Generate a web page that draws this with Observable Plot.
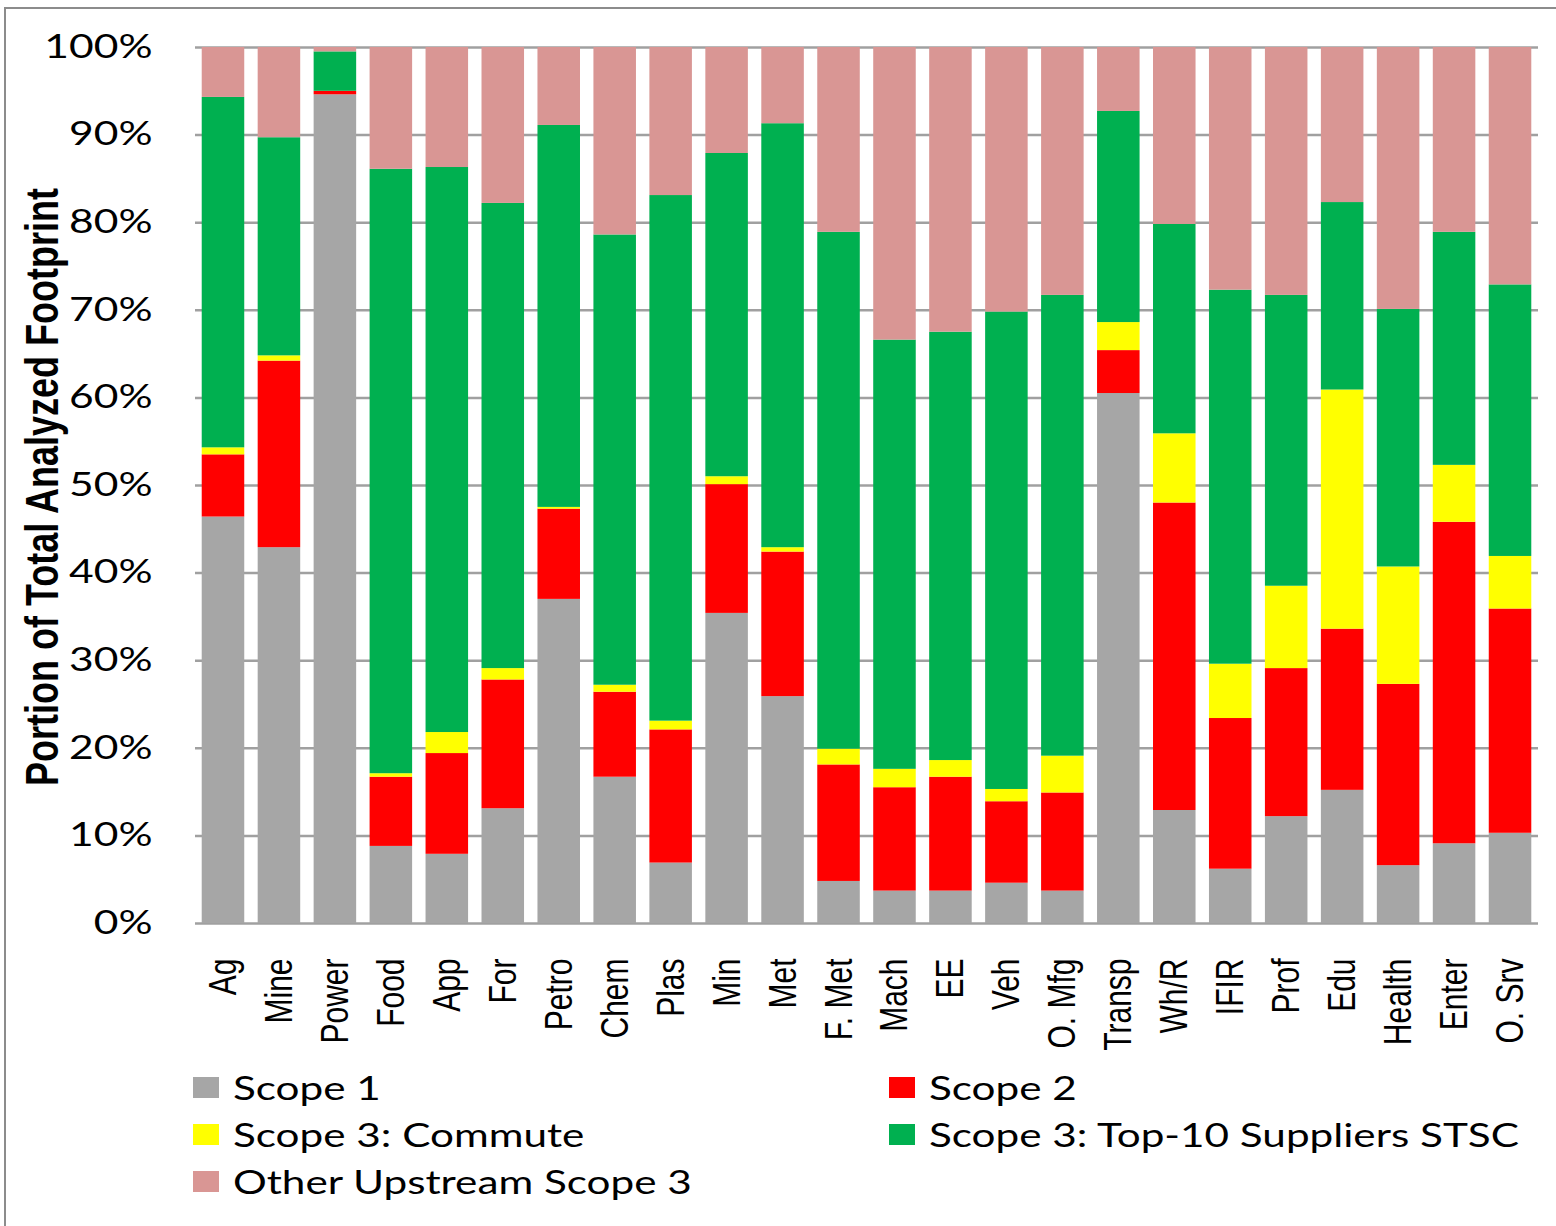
<!DOCTYPE html>
<html>
<head>
<meta charset="utf-8">
<script src="https://cdn.jsdelivr.net/npm/d3@7"></script>
<script src="https://cdn.jsdelivr.net/npm/@observablehq/plot@0.6"></script>
<style>
  html, body { margin: 0; padding: 0; background: #fff; }
  body { width: 1556px; height: 1226px; position: relative; overflow: hidden; }
  #frame { position: absolute; left: 4px; top: 7px; width: 1600px; height: 1300px; border: 2.5px solid #8c8c8c; box-sizing: border-box; }
  #chart { position: absolute; left: 0; top: 0; }
  #ytitle { position: absolute; left: 43px; top: 487px; transform-origin: 0 0;
            transform: scaleX(1.28) rotate(-90deg) translate(-50%, -50%);
            font-family: "Liberation Sans", Arial, sans-serif; font-weight: bold; font-size: 36px; white-space: nowrap; color: #000; }
  .leg { position: absolute; display: flex; align-items: center; }
  .leg .sw { width: 26px; height: 21px; margin-right: 14px; }
  .leg .tx { display: inline-block; transform-origin: 0 50%; transform: scaleX(1.32);
             font-family: Lato, "Open Sans", sans-serif; font-size: 32px; white-space: nowrap; color: #000; }
</style>
</head>
<body>
<div id="frame"></div>
<div id="chart"></div>
<div id="ytitle">Portion of Total Analyzed Footprint</div>
<div id="legend"></div>
<script>
const categories = ["Ag","Mine","Power","Food","App","For","Petro","Chem","Plas","Min","Met","F. Met","Mach","EE","Veh","O. Mfg","Transp","Wh/R","IFIR","Prof","Edu","Health","Enter","O. Srv"];
const seriesNames = ["Scope 1","Scope 2","Scope 3: Commute","Scope 3: Top-10 Suppliers STSC","Other Upstream Scope 3"];
const seriesColors = ["#a6a6a6","#ff0000","#ffff00","#00b050","#d99694"];
const scope1  = [46.4,42.9,94.6,8.8,7.9,13.1,37.0,16.7,6.9,35.4,25.9,4.8,3.7,3.7,4.6,3.7,60.5,12.9,6.2,12.2,15.2,6.6,9.1,10.3];
const scope2  = [7.1,21.3,0.4,7.9,11.5,14.7,10.3,9.7,15.2,14.7,16.5,13.3,11.8,13.0,9.3,11.2,4.9,35.1,17.2,16.9,18.4,20.7,36.7,25.6];
const commute = [0.8,0.6,0.0,0.4,2.4,1.3,0.2,0.8,1.0,0.9,0.5,1.8,2.1,1.9,1.4,4.2,3.2,7.9,6.2,9.4,27.3,13.4,6.5,6.0];
const top10   = [40.0,24.9,4.5,69.0,64.5,53.1,43.6,51.4,60.0,36.9,48.4,59.0,49.0,48.9,54.5,52.6,24.1,23.9,42.7,33.2,21.4,29.4,26.6,31.0];
const other   = [5.7,10.3,0.5,13.9,13.7,17.8,8.9,21.4,16.9,12.1,8.7,21.1,33.4,32.5,30.2,28.3,7.3,20.2,27.7,28.3,17.7,29.9,21.1,27.1];
const yTicks = [0,10,20,30,40,50,60,70,80,90,100];

const seriesValues = [scope1, scope2, commute, top10, other];
const data = [];
seriesNames.forEach((s, si) => categories.forEach((c, ci) => data.push({category: c, series: s, value: seriesValues[si][ci]})));

const W = 1556, H = 1062;
const chart = Plot.plot({
  width: W, height: H,
  marginLeft: 195, marginRight: 18, marginTop: 47, marginBottom: H - 923,
  style: {fontFamily: "Lato, sans-serif", fontSize: "32px", color: "#000", background: "transparent", overflow: "visible"},
  x: {domain: categories, paddingInner: 0.24, paddingOuter: 0.12, round: false, label: null},
  y: {domain: [0, 100], label: null},
  color: {domain: seriesNames, range: seriesColors},
  marks: [
    Plot.gridY(yTicks, {stroke: "#a0a0a0", strokeWidth: 2.5, strokeOpacity: 1}),
    Plot.barY(data, {x: "category", y: "value", fill: "series"}),
    Plot.axisY(yTicks, {tickSize: 0, tickPadding: 43, tickFormat: d => d + "%", fontSize: 32, fontFamily: "Lato, sans-serif", label: null}),
    Plot.axisX({tickRotate: -90, tickSize: 0, tickPadding: 35, fontSize: 30, fontFamily: "Liberation Sans, Arial, sans-serif", label: null})
  ]
});
document.getElementById("chart").appendChild(chart);

function stretch(sel, k) {
  sel.each(function () {
    let t = this.getAttribute("transform") || "";
    if (/rotate/.test(t)) t = t.replace(/rotate/, `scale(${k},1) rotate`);
    else t = t + ` scale(${k},1)`;
    this.setAttribute("transform", t.trim());
  });
}
stretch(d3.select(chart).selectAll('g[aria-label="y-axis tick label"] text'), 1.33);
stretch(d3.select(chart).selectAll('g[aria-label="x-axis tick label"] text'), 1.3);

// legend (HTML), built from series arrays
const legend = document.getElementById("legend");
const legPos = [[193, 1087], [889, 1087], [193, 1134], [889, 1134], [193, 1181]];
seriesNames.forEach((s, i) => {
  const item = document.createElement("div");
  item.className = "leg";
  item.style.left = legPos[i][0] + "px";
  item.style.top = (legPos[i][1] - 22) + "px";
  item.style.height = "44px";
  const sw = document.createElement("div");
  sw.className = "sw";
  sw.style.background = seriesColors[i];
  const tx = document.createElement("span");
  tx.className = "tx";
  tx.textContent = s;
  item.appendChild(sw); item.appendChild(tx);
  legend.appendChild(item);
});
</script>
</body>
</html>
